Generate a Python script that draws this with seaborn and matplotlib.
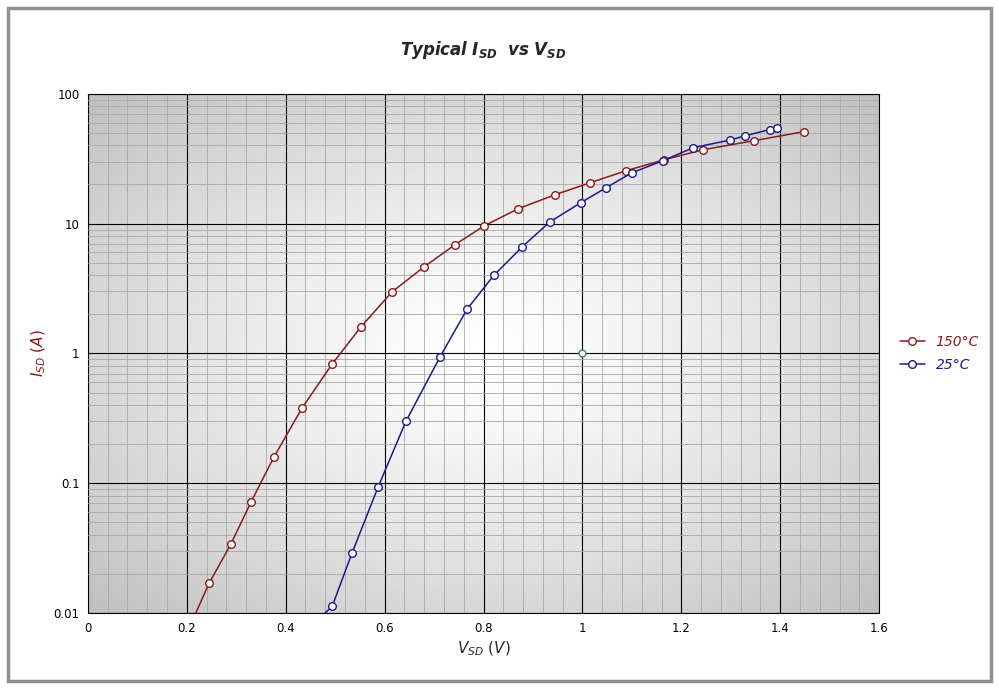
import numpy as np
import pandas as pd
import seaborn as sns
import matplotlib.pyplot as plt
from matplotlib.ticker import FixedLocator, MultipleLocator, NullFormatter, FuncFormatter
from matplotlib.patches import Rectangle

# valores
v_150 = [0.245, 0.289, 0.330, 0.376, 0.433, 0.494, 0.552, 0.615, 0.680, 0.742, 0.801,
         0.870, 0.945, 1.015, 1.088, 1.165, 1.244, 1.347, 1.448]
i_150 = [0.017, 0.034, 0.072, 0.159, 0.38, 0.83, 1.6, 2.98, 4.65, 6.86, 9.6,
         13.0, 16.7, 20.6, 25.5, 31, 37, 43.5, 51]
v_25 = [0.494, 0.534, 0.587, 0.643, 0.712, 0.767, 0.821, 0.878, 0.934, 0.997,
        1.048, 1.100, 1.163, 1.224, 1.299, 1.329, 1.379, 1.394]
i_25 = [0.0113, 0.029, 0.094, 0.30, 0.94, 2.2, 4.0, 6.6, 10.3, 14.5,
        18.9, 24.6, 30.5, 38.4, 44, 47.4, 53, 54.7]
# início da curva (sem marcador), na borda inferior
v_150_start, v_25_start = 0.218, 0.479

df = pd.concat([
    pd.DataFrame({"V": v_150, "I": i_150, "T": "150°C"}),
    pd.DataFrame({"V": v_25, "I": i_25, "T": "25°C"}),
])
cores = {"150°C": "#8B1A1A", "25°C": "#1A1A8B"}

sns.set_style("white")
fig = plt.figure(figsize=(9.99, 6.89), dpi=100)
ax = fig.add_axes([0.088, 0.11, 0.792, 0.754])

# fundo em degradê (claro no centro, escuro nos cantos)
yy, xx = np.mgrid[-1:1:200j, -1:1:200j]
r = np.sqrt((xx * 1.0) ** 2 + (yy * 1.0) ** 2) / 1.414
grad = 1 - 0.25 * np.clip(r, 0, 1) ** 1.3
ax.imshow(grad, cmap="gray", vmin=0, vmax=1, extent=[0, 1, 0, 1],
          aspect="auto", zorder=0, transform=ax.transAxes)

ax.set_yscale("log")
ax.set_xlim(0, 1.6)
ax.set_ylim(0.01, 100)

ax.plot([v_150_start, v_150[0]], [0.01, i_150[0]], color=cores["150°C"], lw=1.1, zorder=3)
ax.plot([v_25_start, v_25[0]], [0.01, i_25[0]], color=cores["25°C"], lw=1.1, zorder=3)
for t, d in df.groupby("T", sort=False):
    sns.lineplot(data=d, x="V", y="I", ax=ax, color=cores[t], lw=1.1, marker="o",
                 markersize=5.5, markerfacecolor="white", markeredgecolor=cores[t],
                 markeredgewidth=1, label=t, zorder=4)
ax.plot([1.0], [1.0], "o", markersize=5, markerfacecolor="white",
        markeredgecolor="#2E8B7A", zorder=4)

ax.xaxis.set_major_locator(MultipleLocator(0.2))
ax.xaxis.set_minor_locator(MultipleLocator(0.04))
ax.yaxis.set_major_locator(FixedLocator([0.01, 0.1, 1, 10, 100]))
ax.yaxis.set_minor_locator(FixedLocator([m * 10.0**e for e in range(-2, 2) for m in range(2, 10)]))
ax.yaxis.set_major_formatter(FuncFormatter(lambda v, p: f"{v:g}"))
ax.yaxis.set_minor_formatter(NullFormatter())
ax.xaxis.set_major_formatter(FuncFormatter(lambda v, p: f"{v:g}"))
ax.grid(which="major", color="black", lw=0.8, zorder=1)
ax.grid(which="minor", color="#A8A8A8", lw=0.6, zorder=1)
ax.set_axisbelow(False)
for s in ax.spines.values():
    s.set_color("black")
    s.set_linewidth(0.8)
ax.tick_params(labelsize=8.5, length=0, pad=6, colors="black")

ax.set_xlabel(r"$\mathit{V}_{\mathit{SD}}$ $\mathit{(V)}$", fontsize=11)
ax.set_ylabel(r"$\mathit{I}_{\mathit{SD}}$ $\mathit{(A)}$", fontsize=11, color="#8B1A1A")
ax.set_title(r"$\mathbfit{Typical\ I_{SD}\ \ vs\ V_{SD}}$", fontsize=12, pad=28)

leg = ax.legend(loc="center left", bbox_to_anchor=(1.01, 0.5), frameon=False,
                fontsize=10, handlelength=1.8, labelspacing=0.6)
for txt, t in zip(leg.get_texts(), ["150°C", "25°C"]):
    txt.set_color(cores[t])
    txt.set_style("italic")

fig.patches.append(Rectangle((0.008, 0.012), 0.984, 0.976, transform=fig.transFigure,
                             fill=False, edgecolor="#909090", lw=2.5))
fig.savefig("out.png", dpi=100)
